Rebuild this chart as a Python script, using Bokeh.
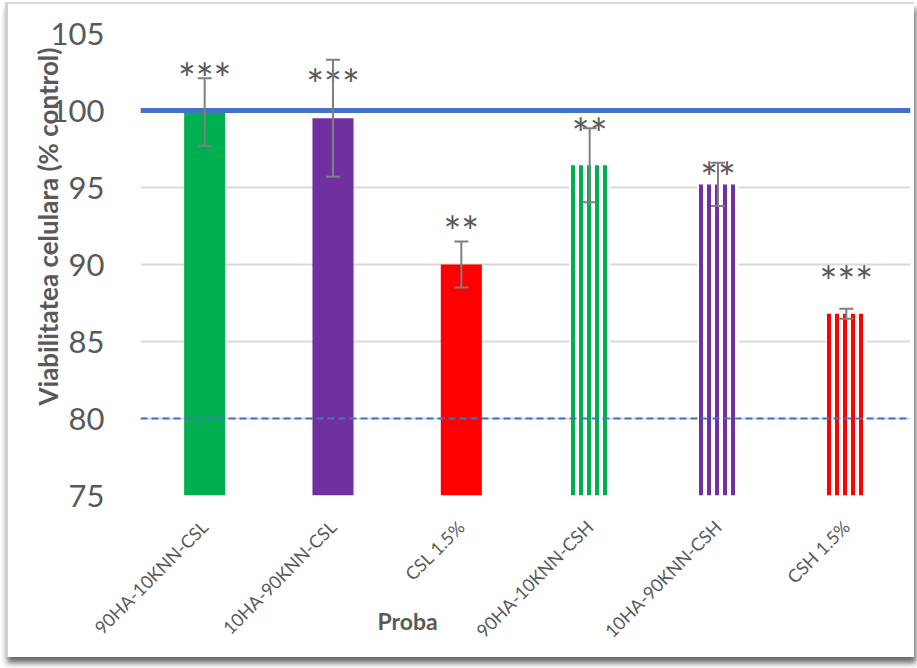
import math
from bokeh.plotting import figure
from bokeh.models import ColumnDataSource, Span, Whisker, TeeHead, Title, FactorRange
from bokeh.core.properties import value
from bokeh.embed import file_html
from bokeh.resources import INLINE

# ---- data ----
samples = ["90HA-10KNN-CSL", "10HA-90KNN-CSL", "CSL 1.5%",
           "90HA-10KNN-CSH", "10HA-90KNN-CSH", "CSH 1.5%"]
viability = [99.9, 99.5, 90.0, 96.45, 95.2, 86.8]
errors = [2.2, 3.8, 1.5, 2.4, 1.4, 0.33]
significance = ["***", "***", "**", "**", "**", "***"]
sig_y = [102.5, 102.1, 92.55, 98.95, 96.1, 89.35]
colors = ["#00B050", "#7030A0", "#FF0000", "#00B050", "#7030A0", "#FF0000"]
hatched = [False, False, False, True, True, True]
y_ticks = [75, 80, 85, 90, 95, 100, 105]
reference_level = 100
threshold_level = 80

FONT = "Lato"
GRAY = "#595959"

p = figure(x_range=FactorRange(*samples), y_range=(75, 105),
           width=909, height=655, output_backend="svg", toolbar_location=None,
           min_border_left=132, min_border_right=7, min_border_top=29,
           min_border_bottom=164)
p.styles = {"margin-left": "5px", "margin-top": "2px",
            "border-top": "2px solid #D9D9D9", "border-left": "3px solid #CFCFCF",
            "box-shadow": "2px 6px 6px rgba(0,0,0,0.6)"}
p.outline_line_color = None
p.background_fill_color = "white"
p.border_fill_color = "white"

solid = ColumnDataSource(dict(
    x=[s for s, h in zip(samples, hatched) if not h],
    top=[v for v, h in zip(viability, hatched) if not h],
    color=[c for c, h in zip(colors, hatched) if not h]))
hatch = ColumnDataSource(dict(
    x=[s for s, h in zip(samples, hatched) if h],
    top=[v for v, h in zip(viability, hatched) if h],
    color=[c for c, h in zip(colors, hatched) if h]))

p.vbar(x="x", top="top", bottom=75, width=0.32, source=solid,
       fill_color="color", line_color=None)
p.vbar(x="x", top="top", bottom=75, width=0.32, source=hatch,
       fill_color="white", line_color=None, hatch_pattern="|",
       hatch_color="color", hatch_scale=8, hatch_weight=4)

p.add_layout(Span(location=reference_level, dimension="width",
                  line_color="#4472C4", line_width=5))
p.add_layout(Span(location=threshold_level, dimension="width",
                  line_color="#4472C4", line_width=2, line_dash="7 4"))

err = ColumnDataSource(dict(
    x=samples,
    upper=[v + e for v, e in zip(viability, errors)],
    lower=[v - e for v, e in zip(viability, errors)]))
p.add_layout(Whisker(base="x", upper="upper", lower="lower", source=err,
                     level="overlay",
                     line_color="#7F7F7F", line_width=2,
                     upper_head=TeeHead(size=14, line_color="#7F7F7F", line_width=2),
                     lower_head=TeeHead(size=14, line_color="#7F7F7F", line_width=2)))

sig = ColumnDataSource(dict(x=samples, y=sig_y, t=significance))
p.text(x="x", y="y", text="t", source=sig, text_align="center",
       text_baseline="middle", y_offset=6, text_font=value(FONT),
       text_font_size="42px", text_color=GRAY)

# axes
p.yaxis.ticker = y_ticks
p.yaxis.axis_line_color = None
p.yaxis.major_tick_line_color = None
p.yaxis.minor_tick_line_color = None
p.yaxis.major_label_text_font = FONT
p.yaxis.major_label_text_font_size = "31px"
p.yaxis.major_label_text_color = GRAY
p.yaxis.major_label_standoff = 30

p.xaxis.axis_line_color = None
p.xaxis.major_tick_line_color = None
p.xaxis.major_label_orientation = math.pi / 4
p.xaxis.major_label_text_font = FONT
p.xaxis.major_label_text_font_size = "18px"
p.xaxis.major_label_text_color = GRAY
p.xaxis.major_label_standoff = 22

p.xgrid.grid_line_color = None
p.ygrid.grid_line_color = "#D9D9D9"
p.ygrid.grid_line_width = 2

# axis titles as side-panel titles (offset along the frame edge)
p.add_layout(Title(text="Viabilitatea celulara (% control)", align="left",
                   offset=90, standoff=-33,
                   text_font=FONT, text_font_style="bold",
                   text_font_size="26px", text_color=GRAY), "left")
p.add_layout(Title(text="Proba", align="left", vertical_align="top",
                   offset=237, standoff=-92,
                   text_font=FONT, text_font_style="bold",
                   text_font_size="23px", text_color=GRAY), "below")

open("out.html", "w").write(file_html(p, INLINE))
